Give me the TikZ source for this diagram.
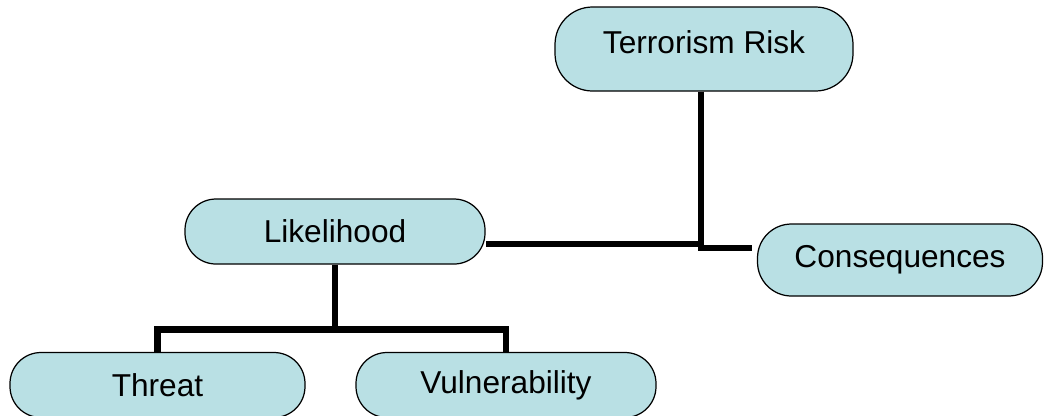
\documentclass[tikz,border=0pt]{standalone}
\usepackage{fontspec}
\setmainfont{Liberation Sans}
\usepackage{tikz}
\usetikzlibrary{shapes,arrows}
\definecolor{boxblue}{RGB}{185,224,228}
\tikzstyle{block} = [rectangle, draw, line width=0.7pt, fill=boxblue,
    text centered, rounded corners=0.62cm, minimum height=1.3cm,
    font=\fontsize{18}{21}\selectfont]
\tikzstyle{line} = [draw, line width=3.6pt]

\begin{document}
\begin{tikzpicture}
    \useasboundingbox (0,0) rectangle (20.9,-8.3);
    % Place nodes
    \node [block, minimum width=5.96cm, minimum height=1.68cm, rounded corners=0.75cm, text depth=0.28cm] at (14.08,-0.98) (risk) {Terrorism Risk};
    \node [block, minimum width=6.0cm] at (6.7,-4.63) (likelihood) {Likelihood};
    \node [block, minimum width=5.7cm, minimum height=1.44cm, rounded corners=0.68cm] at (18.0,-5.2) (consequences) {Consequences};
    \node [block, minimum width=5.9cm] at (3.15,-7.7) (threat) {Threat};
    \node [block, minimum width=6.0cm] at (10.12,-7.7) (vulnerability) {Vulnerability};
    % Draw edges
    \path [line] ([xshift=-0.06cm]risk.south) |- ([yshift=-0.25cm]likelihood.east);
    \path [line] ([xshift=-0.06cm]risk.south) |- ([xshift=-0.1cm,yshift=0.24cm]consequences.west);
    \path [line] (likelihood.south) -- ++(0,-1.3) -| (threat.north);
    \path [line] (likelihood.south) -- ++(0,-1.3) -| (vulnerability.north);
\end{tikzpicture}
\end{document}
